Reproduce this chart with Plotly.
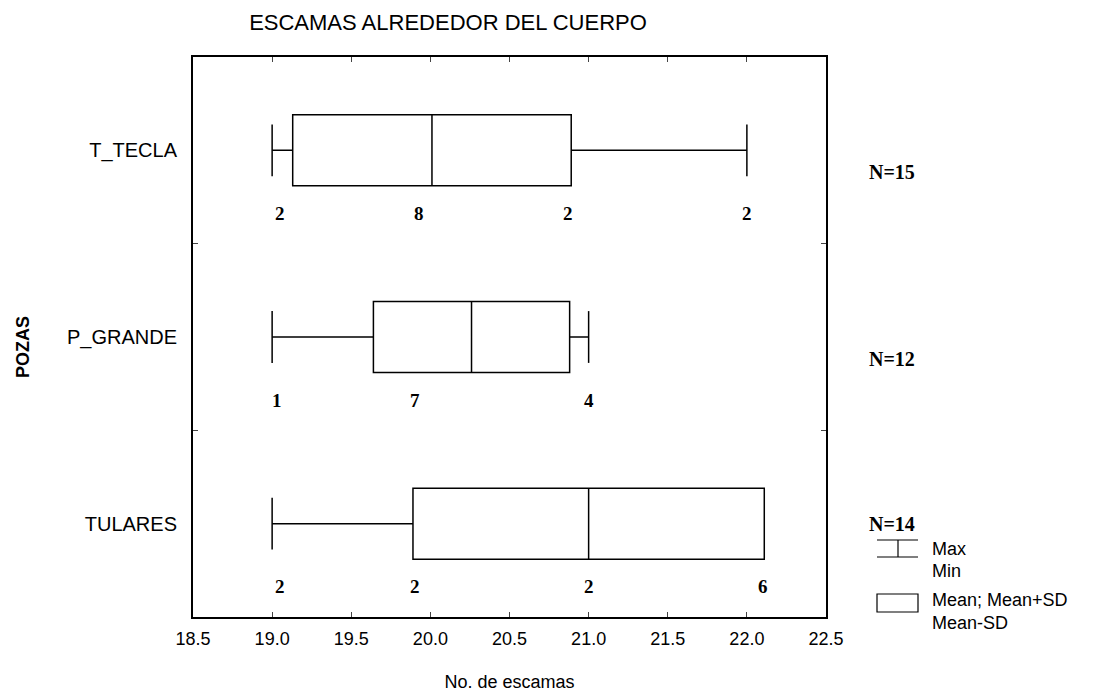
import plotly.graph_objects as go

# datos
pozas = ["T_TECLA", "P_GRANDE", "TULARES"]
minimo = [19.0, 19.0, 19.0]
maximo = [22.0, 21.0, 22.0]
media = [20.01, 20.26, 21.0]
de = [0.88, 0.62, 1.11]
n_pozas = [15, 12, 14]

# frecuencias escritas debajo de cada caja (posicion x leida)
frec_x = {
    "T_TECLA": [19.05, 19.93, 20.87, 22.0],
    "P_GRANDE": [19.03, 19.9, 21.0],
    "TULARES": [19.05, 19.9, 21.0, 22.1],
}
frec_val = {
    "T_TECLA": [2, 8, 2, 2],
    "P_GRANDE": [1, 7, 4],
    "TULARES": [2, 2, 2, 6],
}

# la pagina tiene 8px de margen en el body
OFF = 8
L, T, R, B = 193 - OFF, 57 - OFF, 826 - OFF, 617 - OFF

fig = go.Figure()

for i, p in enumerate(pozas):
    q1 = media[i] - de[i]
    q3 = media[i] + de[i]
    fig.add_trace(go.Box(
        y=[p], q1=[q1], median=[media[i]], q3=[q3],
        lowerfence=[minimo[i]], upperfence=[max(maximo[i], q3)],
        orientation="h", fillcolor="white",
        line=dict(color="black", width=1.5),
        whiskerwidth=0, showlegend=False, hoverinfo="skip"))
    # topes de los bigotes
    cx = [minimo[i]]
    if maximo[i] > q3:
        cx.append(maximo[i])
    fig.add_trace(go.Scatter(
        x=cx, y=[p] * len(cx), mode="markers",
        marker=dict(symbol="line-ns", size=37, line=dict(color="black", width=1.5)),
        showlegend=False, hoverinfo="skip"))

for p in pozas:
    for xv, nv in zip(frec_x[p], frec_val[p]):
        fig.add_annotation(x=xv, y=p, text="<b>%d</b>" % nv, showarrow=False,
                           yshift=-63, font=dict(family="Liberation Serif", size=19, color="black"))

for i, p in enumerate(pozas):
    fig.add_annotation(x=1.105, xref="paper", y=p, yref="y", text="<b>N=%d</b>" % n_pozas[i],
                       showarrow=False, xanchor="center", yshift=-22 if i < 2 else 0,
                       font=dict(family="Liberation Serif", size=20, color="black"))

# leyenda dibujada a mano (pixeles de la imagen)
def px_x(v):
    return (v - 193) / 633

def px_y(v):
    return (617 - v) / 560

leg = dict(color="black", width=1.2)
for y0, y1, x0, x1 in [(540, 540, 877, 918), (557, 557, 877, 918), (540, 557, 898, 898)]:
    fig.add_shape(type="line", xref="paper", yref="paper", x0=px_x(x0), x1=px_x(x1),
                  y0=px_y(y0), y1=px_y(y1), line=leg)
fig.add_shape(type="rect", xref="paper", yref="paper", x0=px_x(877), x1=px_x(918),
              y0=px_y(594), y1=px_y(612), line=leg)
for txt, yy in [("Max", 549), ("Min", 571), ("Mean; Mean+SD", 600), ("Mean-SD", 623)]:
    fig.add_annotation(x=px_x(930), y=px_y(yy), xref="paper", yref="paper", text=txt,
                       showarrow=False, xanchor="left", yanchor="middle",
                       font=dict(family="Liberation Sans", size=18, color="black"))

# titulo del eje y
fig.add_annotation(x=px_x(23), y=px_y(347), xref="paper", yref="paper", text="<b>POZAS</b>",
                   showarrow=False, textangle=-90, xanchor="center", yanchor="middle",
                   font=dict(family="Liberation Sans", size=18, color="black"))

fig.update_layout(
    width=1109, height=692,
    paper_bgcolor="white", plot_bgcolor="white",
    margin=dict(l=L, r=1109 - R, t=T, b=692 - B, autoexpand=False),
    title=dict(text="ESCAMAS ALREDEDOR DEL CUERPO", x=(448 - OFF) / 1109, xanchor="center",
               y=1 - (22 - OFF) / 692, yanchor="middle",
               font=dict(family="Liberation Sans", size=22, color="black")),
    font=dict(family="Liberation Sans", size=18, color="black"),
    boxgap=0.62, boxgroupgap=0,
)
fig.update_xaxes(range=[18.5, 22.5], dtick=0.5, tickformat=".1f", ticks="inside", ticklen=5,
                 showline=True, linecolor="black", linewidth=2, mirror="allticks",
                 showgrid=False, zeroline=False, ticklabelstandoff=4, automargin=False,
                 title=dict(text="No. de escamas", font=dict(size=18), standoff=28))
fig.update_yaxes(categoryorder="array", categoryarray=pozas[::-1], range=[-0.5, 2.5],
                 tickson="boundaries", ticks="inside", ticklen=5,
                 showline=True, linecolor="black", linewidth=2, mirror="allticks",
                 showgrid=False, zeroline=False, ticklabelstandoff=10, automargin=False,
                 tickfont=dict(size=20))

fig.write_html("out.html")
